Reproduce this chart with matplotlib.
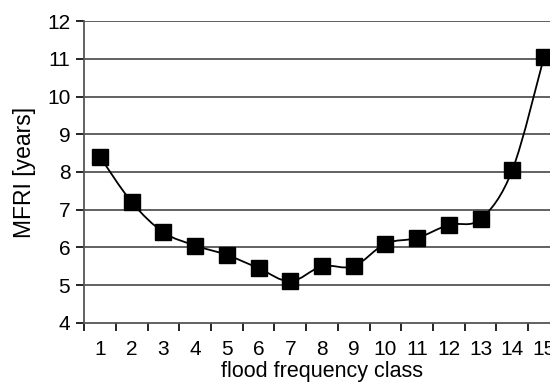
import numpy as np
import matplotlib.pyplot as plt
from matplotlib.path import Path
from matplotlib.patches import PathPatch

plt.rcParams['font.family'] = ['Liberation Sans', 'DejaVu Sans']

classes = list(range(1, 16))
mfri = [8.4, 7.2, 6.4, 6.05, 5.8, 5.45, 5.1, 5.5, 5.5, 6.1, 6.25, 6.6, 6.75, 8.05, 11.05]

fig = plt.figure(figsize=(5.5, 3.83), dpi=100)
ax = fig.add_axes([0.153, 0.157, 0.865, 0.788])

# smoothed line (Catmull-Rom style bezier, like spreadsheet smoothing)
x = np.array(classes, dtype=float)
y = np.array(mfri)
verts = [(x[0], y[0])]
codes = [Path.MOVETO]
t = 1 / 6
for i in range(len(x) - 1):
    p0 = (x[max(i - 1, 0)], y[max(i - 1, 0)])
    p1 = (x[i], y[i])
    p2 = (x[i + 1], y[i + 1])
    p3 = (x[min(i + 2, len(x) - 1)], y[min(i + 2, len(x) - 1)])
    c1 = (p1[0] + (p2[0] - p0[0]) * t, p1[1] + (p2[1] - p0[1]) * t)
    c2 = (p2[0] - (p3[0] - p1[0]) * t, p2[1] - (p3[1] - p1[1]) * t)
    verts += [c1, c2, p2]
    codes += [Path.CURVE4] * 3
ax.add_patch(PathPatch(Path(verts, codes), fill=False, edgecolor='black', lw=1.3, zorder=3))
ax.plot(classes, mfri, linestyle='none', marker='s', markersize=11, color='black', zorder=4)

ax.set_xlim(0.5, 15.5)
ax.set_ylim(4, 12)
ax.set_yticks(range(4, 13))
ax.set_xticks(classes)
ax.set_xticks(np.arange(0.5, 16, 1), minor=True)
ax.tick_params(axis='x', which='major', length=0, labelsize=15, pad=12)
ax.tick_params(axis='x', which='minor', length=6, direction='out', width=1.2)
ax.tick_params(axis='y', length=6, direction='out', width=1.2, labelsize=15, pad=4)
for v in range(5, 13):
    ax.axhline(v, color='#555555', lw=1.3, zorder=1)
ax.spines['top'].set_visible(False)
ax.spines['right'].set_visible(False)
ax.spines['left'].set_linewidth(1.3)
ax.spines['left'].set_color('#555555')
ax.spines['bottom'].set_linewidth(1.3)
ax.spines['bottom'].set_color('#555555')
ax.set_xlabel('flood frequency class', fontsize=15.5, labelpad=2)
ax.set_ylabel('MFRI [years]', fontsize=16.5, labelpad=8)

fig.savefig('out.png', dpi=100)
